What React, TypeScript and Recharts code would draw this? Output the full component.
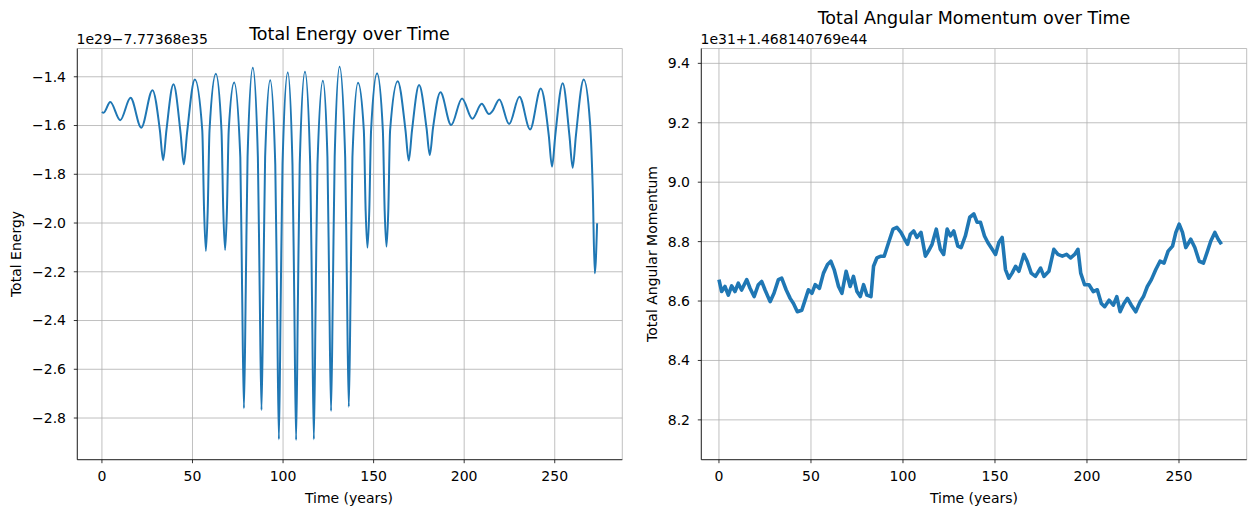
import React from 'react';
import { LineChart, Line, XAxis, YAxis, CartesianGrid } from 'recharts';

// years
const timeTicks = [0, 50, 100, 150, 200, 250];
const energyTicks = [-2.8, -2.6, -2.4, -2.2, -2.0, -1.8, -1.6, -1.4];
const momentumTicks = [8.2, 8.4, 8.6, 8.8, 9.0, 9.2, 9.4];

// total energy (offset 1e29 - 7.77368e35)
const energyTime = [
    0, 0.9, 4.6, 10.1, 15.8, 21.7, 27.9, 32.0, 33.8, 35.6, 39.5, 43.4, 45.2, 47.0, 51.3,
    55.4, 56.4, 57.4, 58.4, 59.4, 62.9, 66.0, 67.0, 68.0, 69.0, 70.0, 73.0,
    76.4, 77.4, 78.4, 79.4, 80.4, 83.3, 86.1, 87.1, 88.1, 89.1, 90.1, 92.9,
    95.7, 96.7, 97.7, 98.7, 99.7, 102.6, 105.2, 106.2, 107.2, 108.2, 109.2, 112.1,
    115.0, 116.0, 117.0, 118.0, 119.0, 122.0, 124.5, 125.5, 126.5, 127.5, 128.5, 131.2,
    134.3, 135.3, 136.3, 137.3, 138.3, 141.4, 144.6, 145.6, 146.6, 147.6, 148.6, 151.9,
    155.1, 156.1, 157.1, 158.1, 159.1, 163.3, 167.6, 169.4, 171.2, 175.1, 179.2, 181.0, 182.8,
    186.9, 192.8, 198.8, 204.5, 209.7, 213.7, 215.6, 219.4, 224.8, 230.5, 236.4, 242.3,
    246.7, 248.5, 250.3, 254.4, 258.1, 259.9, 261.7, 266.0, 269.5, 271.0, 272.1, 273.4,
];
const energyValue = [
    -1.544, -1.548, -1.504, -1.578, -1.486, -1.609, -1.455, -1.62, -1.742, -1.62, -1.431, -1.63, -1.759, -1.63, -1.411,
    -1.62, -1.95, -2.115, -1.95, -1.62, -1.388, -1.62, -1.95, -2.111, -1.95, -1.62, -1.423,
    -1.73, -2.28, -2.76, -2.28, -1.73, -1.363, -1.73, -2.28, -2.767, -2.28, -1.73, -1.414,
    -1.76, -2.32, -2.887, -2.32, -1.76, -1.382, -1.76, -2.32, -2.89, -2.32, -1.76, -1.379,
    -1.76, -2.32, -2.887, -2.32, -1.76, -1.416, -1.73, -2.28, -2.771, -2.28, -1.73, -1.359,
    -1.73, -2.28, -2.754, -2.28, -1.73, -1.425, -1.62, -1.95, -2.101, -1.95, -1.62, -1.386,
    -1.62, -1.95, -2.097, -1.95, -1.62, -1.418, -1.62, -1.744, -1.62, -1.434, -1.61, -1.721, -1.61,
    -1.464, -1.598, -1.489, -1.572, -1.511, -1.553, -1.541, -1.493, -1.594, -1.482, -1.616, -1.448,
    -1.64, -1.769, -1.64, -1.427, -1.64, -1.773, -1.64, -1.411, -1.591, -1.865, -2.206, -2.001,
];

// total angular momentum (offset 1e31 + 1.468140769e44)
const momentumTime = [
    0, 1.45, 3.27, 5.08, 6.9, 8.71, 10.5, 12.3, 15.1, 16.9, 19.1, 21.4, 23.2, 25.0, 27.8, 29.9,
    32.3, 34.1, 36.5, 38.7, 40.5, 42.6, 45.0, 46.8, 48.6, 50.5, 52.3, 54.6, 56.8, 59.0, 60.8,
    62.6, 65.0, 66.8, 69.1, 71.3, 73.1, 75.0, 76.8, 78.6, 80.4, 82.6, 84.0, 85.8, 88.0, 89.8,
    92.2, 94.6, 96.7, 98.9, 100.9, 102.5, 104.0, 105.8, 107.6, 109.8, 112.2, 114.0, 115.8,
    118.1, 120.3, 122.1, 124.0, 125.8, 127.6, 129.8, 131.6, 133.9, 136.3, 138.5, 140.3, 142.1,
    144.3, 146.1, 148.5, 150.3, 152.1, 153.9, 155.7, 157.5, 159.3, 161.2, 163.0, 165.7, 167.5,
    169.7, 172.0, 174.8, 176.6, 179.3, 182.0, 184.2, 186.6, 188.9, 191.1, 193.3, 195.1, 196.6,
    198.7, 201.1, 203.4, 205.6, 207.8, 209.6, 212.0, 214.3, 216.2, 218.0, 220.1, 222.0, 224.1,
    226.5, 228.9, 230.7, 232.8, 235.0, 237.4, 239.7, 241.9, 244.1, 246.5, 248.3, 250.1, 251.9,
    253.7, 256.4, 258.6, 261.0, 263.3, 265.5, 267.3, 269.5, 271.3, 273.1,
];
const momentumValue = [
    8.672, 8.632, 8.649, 8.620, 8.651, 8.632, 8.660, 8.637, 8.672, 8.643, 8.615, 8.655, 8.666, 8.638, 8.598, 8.626,
    8.672, 8.677, 8.638, 8.609, 8.592, 8.564, 8.569, 8.603, 8.638, 8.626, 8.655, 8.643, 8.694, 8.723, 8.734,
    8.706, 8.649, 8.626, 8.700, 8.649, 8.683, 8.632, 8.615, 8.655, 8.620, 8.615, 8.717, 8.745, 8.751, 8.751,
    8.797, 8.842, 8.848, 8.831, 8.808, 8.791, 8.825, 8.836, 8.814, 8.831, 8.751, 8.770, 8.791,
    8.842, 8.774, 8.757, 8.842, 8.819, 8.836, 8.785, 8.780, 8.819, 8.882, 8.893, 8.865, 8.865,
    8.819, 8.797, 8.774, 8.757, 8.797, 8.814, 8.706, 8.677, 8.694, 8.717, 8.700, 8.757, 8.734,
    8.694, 8.683, 8.711, 8.683, 8.700, 8.774, 8.757, 8.751, 8.757, 8.745, 8.757, 8.774, 8.694,
    8.655, 8.655, 8.632, 8.638, 8.592, 8.581, 8.603, 8.586, 8.615, 8.564, 8.592, 8.609, 8.586,
    8.564, 8.598, 8.615, 8.649, 8.672, 8.706, 8.734, 8.728, 8.768, 8.785, 8.831, 8.859, 8.831,
    8.780, 8.808, 8.780, 8.734, 8.728, 8.768, 8.802, 8.831, 8.808, 8.791,
];

const energyData = energyTime.map((t, i) => ({ t, v: energyValue[i] }));
const momentumData = momentumTime.map((t, i) => ({ t, v: momentumValue[i] }));

const FONT = 'DejaVu Sans, sans-serif';
const BLUE = '#1f77b4';
const tickStyle = { fill: '#000', fontSize: 14, fontFamily: FONT };
const fmt = (v: number) => v.toFixed(1).replace('-', '\u2212');

interface PanelProps {
    data: { t: number; v: number }[];
    width: number;
    margin: { top: number; right: number; bottom: number; left: number };
    xDomain: [number, number];
    yDomain: [number, number];
    yTicks: number[];
    strokeWidth: number;
    curve: 'monotone' | 'linear';
}

const Panel: React.FC<PanelProps> = ({ data, width, margin, xDomain, yDomain, yTicks, strokeWidth, curve }) => (
    <LineChart width={width} height={506} data={data} margin={margin}>
        <CartesianGrid stroke="#b0b0b0" strokeWidth={0.8} />
        <XAxis
            type="number"
            dataKey="t"
            domain={xDomain}
            ticks={timeTicks}
            allowDataOverflow
            height={30}
            tick={tickStyle}
            tickSize={3.5}
            tickMargin={8.3}
            tickLine={{ stroke: '#000', strokeWidth: 0.8 }}
            axisLine={{ stroke: '#000', strokeWidth: 0.8 }}
        />
        <XAxis
            xAxisId="top"
            orientation="top"
            type="number"
            domain={xDomain}
            allowDataOverflow
            height={0}
            tick={false}
            tickLine={false}
            axisLine={{ stroke: '#000', strokeWidth: 0.8 }}
        />
        <YAxis
            type="number"
            domain={yDomain}
            ticks={yTicks}
            allowDataOverflow
            width={50}
            tick={tickStyle}
            tickFormatter={fmt}
            tickSize={3.5}
            tickMargin={7.8}
            tickLine={{ stroke: '#000', strokeWidth: 0.8 }}
            axisLine={{ stroke: '#000', strokeWidth: 0.8 }}
        />
        <YAxis
            yAxisId="right"
            orientation="right"
            type="number"
            domain={yDomain}
            allowDataOverflow
            width={0}
            tick={false}
            tickLine={false}
            axisLine={{ stroke: '#000', strokeWidth: 0.8 }}
        />
        <Line
            type={curve}
            dataKey="v"
            stroke={BLUE}
            strokeWidth={strokeWidth}
            strokeLinejoin="round"
            dot={false}
            isAnimationActive={false}
        />
    </LineChart>
);

const App: React.FC = () => {
    return (
        <div style={{ position: 'absolute', left: 0, top: 0, width: 1257, height: 506, background: '#fff' }}>
            <div style={{ position: 'absolute', left: 0, top: 0 }}>
                <Panel
                    data={energyData}
                    width={640}
                    margin={{ top: 48.5, right: 17.7, bottom: 16.3, left: 27.3 }}
                    xDomain={[-13.6, 287.3]}
                    yDomain={[-2.971, -1.284]}
                    yTicks={energyTicks}
                    strokeWidth={2}
                    curve="monotone"
                />
            </div>
            <div style={{ position: 'absolute', left: 640, top: 0 }}>
                <Panel
                    data={momentumData}
                    width={617}
                    margin={{ top: 48.5, right: 10.3, bottom: 16.3, left: 11.3 }}
                    xDomain={[-9.6, 286.8]}
                    yDomain={[8.066, 9.45]}
                    yTicks={momentumTicks}
                    strokeWidth={3.6}
                    curve="linear"
                />
            </div>
            <svg
                width={1257}
                height={506}
                style={{ position: 'absolute', left: 0, top: 0, pointerEvents: 'none' }}
                fontFamily={FONT}
                fill="#000"
            >
                <text x={349.5} y={39.5} fontSize={17.5} textAnchor="middle">Total Energy over Time</text>
                <text x={974} y={23.5} fontSize={17.5} textAnchor="middle">Total Angular Momentum over Time</text>
                <text x={76.5} y={44} fontSize={14}>1e29{'\u2212'}7.77368e35</text>
                <text x={700.5} y={44} fontSize={14}>1e31+1.468140769e44</text>
                <text x={349} y={503} fontSize={14} textAnchor="middle">Time (years)</text>
                <text x={974} y={503} fontSize={14} textAnchor="middle">Time (years)</text>
                <text x={20.5} y={254} fontSize={14} textAnchor="middle" transform="rotate(-90 20.5 254)">Total Energy</text>
                <text x={657} y={254} fontSize={14} textAnchor="middle" transform="rotate(-90 657 254)">Total Angular Momentum</text>
            </svg>
        </div>
    );
};

export default App;
